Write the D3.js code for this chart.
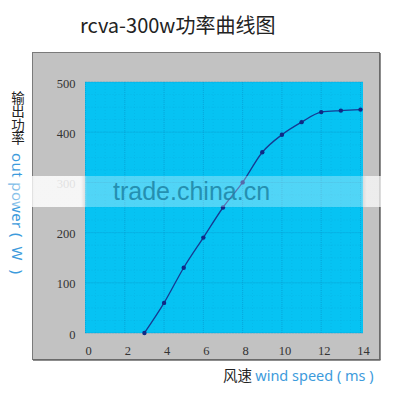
<!DOCTYPE html>
<html><head><meta charset="utf-8">
<script src="https://cdn.jsdelivr.net/npm/d3@7"></script>
<style>body{margin:0;background:#fff}svg{display:block}</style>
</head><body>
<script>
const windSpeed = [3,4,5,6,7,8,9,10,11,12,13,14];
const power = [0,60,130,190,250,300,360,395,420,440,443,445];
const xTicks = [0,2,4,6,8,10,12,14];
const yTicks = [0,100,200,300,400,500];
const title = "rcva-300w功率曲线图";

const W=400,H=400;
const svg=d3.select("body").append("svg").attr("width",W).attr("height",H);
const x=d3.scaleLinear().domain([0,14]).range([85.5,360.5]);
const y=d3.scaleLinear().domain([0,500]).range([333,82]);

// title
svg.append("text").attr("x",80).attr("y",33).attr("font-family","'Noto Sans CJK SC','Noto Sans',sans-serif")
  .attr("font-size",20).attr("fill","#222").text(title);

// gray panel
svg.append("rect").attr("x",32.5).attr("y",52.5).attr("width",347).attr("height",307)
  .attr("fill","#c2c2c2").attr("stroke","#7a7a7a").attr("stroke-width",1);
svg.append("line").attr("x1",380).attr("x2",380).attr("y1",53).attr("y2",360).attr("stroke","#666").attr("stroke-width",1.5);
svg.append("line").attr("x1",33).attr("x2",380.5).attr("y1",360).attr("y2",360).attr("stroke","#666").attr("stroke-width",1.5);

// plot background
svg.append("rect").attr("x",x(0)-0.5).attr("y",y(500)).attr("width",x(14)-x(0)+3).attr("height",y(0)-y(500))
  .attr("fill","#06c3f3");

// minor grid
const g=svg.append("g");
d3.range(0,14.01,0.5).forEach(v=>g.append("line").attr("x1",x(v)).attr("x2",x(v)).attr("y1",y(0)).attr("y2",y(500))
  .attr("stroke","#0aa6d8").attr("stroke-width",0.6).attr("stroke-dasharray","1,2").attr("opacity",0.5));
d3.range(0,501,25).forEach(v=>g.append("line").attr("x1",x(0)).attr("x2",x(14)+2).attr("y1",y(v)).attr("y2",y(v))
  .attr("stroke","#0aa6d8").attr("stroke-width",0.6).attr("stroke-dasharray","1,2").attr("opacity",0.5));
// major grid
xTicks.forEach(v=>g.append("line").attr("x1",x(v)).attr("x2",x(v)).attr("y1",y(0)).attr("y2",y(500))
  .attr("stroke","#0a98cc").attr("stroke-width",0.8).attr("stroke-dasharray","1,1").attr("opacity",0.7));
yTicks.forEach(v=>g.append("line").attr("x1",x(0)).attr("x2",x(14)+2).attr("y1",y(v)).attr("y2",y(v))
  .attr("stroke","#0a98cc").attr("stroke-width",0.8).attr("stroke-dasharray","1,1").attr("opacity",0.7));

// axes
const xa=svg.append("g").attr("transform",`translate(2.5,${y(0)})`)
  .call(d3.axisBottom(x).tickValues(xTicks).tickSize(0).tickPadding(13));
const ya=svg.append("g").attr("transform",`translate(${x(0)-10},1)`)
  .call(d3.axisLeft(y).tickValues(yTicks).tickSize(0).tickPadding(0));
[xa,ya].forEach(a=>{a.select(".domain").remove();
  a.selectAll("text").attr("font-family","'Liberation Serif','DejaVu Serif',serif").attr("font-size",12.5).attr("fill","#333");});

// line
const pts=windSpeed.map((w,i)=>[w,power[i]]);
svg.append("path").datum(pts).attr("fill","none").attr("stroke","#163a92").attr("stroke-width",1.3)
  .attr("d",d3.line().x(d=>x(d[0])).y(d=>y(d[1])).curve(d3.curveMonotoneX));
svg.selectAll("circle.p").data(pts).enter().append("circle").attr("class","p")
  .attr("cx",d=>x(d[0])).attr("cy",d=>y(d[1])).attr("r",2.2).attr("fill","#0f2a86");

// y label
svg.append("text").attr("x",18).attr("y",91)
  .style("writing-mode","vertical-rl").style("text-orientation","upright")
  .attr("font-family","'Noto Sans CJK SC',sans-serif").attr("font-size",13.5).attr("fill","#222").text("输出功率");
svg.append("text").attr("transform","translate(12,153) rotate(90)").attr("font-family","'Noto Sans','Open Sans',sans-serif")
  .attr("font-size",15).attr("fill","#3d9bdc").attr("letter-spacing",0.4).attr("xml:space","preserve")
  .text("out power (  W  )");

// x label
const xl=svg.append("text").attr("x",223).attr("y",381).attr("font-size",14.5).attr("font-family","'Noto Sans CJK SC',sans-serif");
xl.append("tspan").attr("fill","#222").text("风速 ");
xl.append("tspan").attr("fill","#3d9bdc").attr("font-family","'Noto Sans','Open Sans',sans-serif").text("wind speed ( ms )");

// watermark band
const grad=svg.append("defs").append("linearGradient").attr("id","wg");
[[0,0.15],[0.06,0.5],[0.09,0.85],[0.21,0.85],[0.225,0.3],[0.935,0.3],[0.95,0.7],[0.99,0.7],[1,0.2]].forEach(s=>
  grad.append("stop").attr("offset",s[0]).attr("stop-color","#fff").attr("stop-opacity",s[1]));
svg.append("rect").attr("x",0).attr("y",176).attr("width",386).attr("height",31).attr("fill","url(#wg)");
svg.append("text").attr("x",113).attr("y",200).attr("font-family","'Liberation Sans',Arial,sans-serif")
  .attr("font-size",25).attr("fill","#1a7fa0").attr("opacity",0.8).text("trade.china.cn");
</script>
</body></html>
